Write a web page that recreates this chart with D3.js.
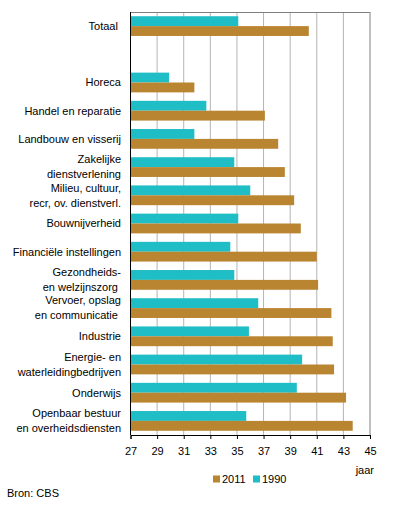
<!DOCTYPE html>
<html>
<head>
<meta charset="utf-8">
<script src="https://cdn.jsdelivr.net/npm/d3@7"></script>
<style>
  body { margin: 0; background: #fff; }
  svg { font-family: "Liberation Sans", Arial, sans-serif; font-size: 11px; }
</style>
</head>
<body>
<div id="chart"></div>
<script>
// categories (empty one is the gap under Totaal), label lines per category
var categories = [
  ["Totaal\u00a0"],
  [],
  ["Horeca"],
  ["Handel en reparatie"],
  ["Landbouw en visserij"],
  ["Zakelijke", "dienstverlening"],
  ["Milieu, cultuur,", "recr, ov. dienstverl."],
  ["Bouwnijverheid"],
  ["Financiële instellingen"],
  ["Gezondheids-", "en welzijnszorg\u00a0"],
  ["Vervoer, opslag", "en communicatie\u00a0"],
  ["Industrie"],
  ["Energie- en", "waterleidingbedrijven"],
  ["Onderwijs"],
  ["Openbaar bestuur", "en overheidsdiensten"]
];
var values1990 = [35.1, null, 29.9, 32.7, 31.8, 34.8, 36.0, 35.1, 34.5, 34.8, 36.6, 35.9, 39.9, 39.5, 35.7];
var values2011 = [40.4, null, 31.8, 37.1, 38.1, 38.6, 39.3, 39.8, 41.0, 41.1, 42.1, 42.2, 42.3, 43.2, 43.7];
var ticks = [27, 29, 31, 33, 35, 37, 39, 41, 43, 45];
var series = ["1990", "2011"];
var colors = { "1990": "#1fbdc5", "2011": "#ba8531" };

var width = 396, height = 506;
var plotLeft = 130.5, plotRight = 370, plotTop = 12, plotBottom = 435;

var svg = d3.select('#chart').append('svg')
  .attr('width', width)
  .attr('height', height);

var x = d3.scaleLinear().domain([27, 45]).range([plotLeft, plotRight]);
var y = d3.scaleBand().domain(d3.range(categories.length)).range([plotTop, plotBottom]).paddingInner(0.3).paddingOuter(0.15);
var ySub = d3.scaleBand().domain(series).range([0, y.bandwidth()]);

// gridlines
svg.append('g').selectAll('line')
  .data(ticks.slice(1))
  .enter().append('line')
  .attr('x1', function(d) { return x(d); })
  .attr('x2', function(d) { return x(d); })
  .attr('y1', plotTop)
  .attr('y2', plotBottom)
  .style('stroke', function(d) { return d === 45 ? '#808080' : '#b4b4b4'; })
  .style('stroke-width', 1);

// top border
svg.append('line')
  .attr('x1', plotLeft).attr('x2', plotRight)
  .attr('y1', plotTop + 0.5).attr('y2', plotTop + 0.5)
  .style('stroke', '#808080');

// bars
var rows = categories.map(function(c, i) {
  return { i: i, v1990: values1990[i], v2011: values2011[i] };
}).filter(function(r) { return r.v1990 !== null; });

series.forEach(function(s) {
  svg.append('g').selectAll('rect')
    .data(rows)
    .enter().append('rect')
    .attr('x', x(27))
    .attr('y', function(d) { return y(d.i) + ySub(s); })
    .attr('width', function(d) { return x(d['v' + s]) - x(27); })
    .attr('height', ySub.bandwidth())
    .style('fill', colors[s]);
});

// category labels
var labels = svg.append('g').selectAll('text')
  .data(categories.map(function(c, i) { return { lines: c, i: i }; }))
  .enter().append('text')
  .attr('text-anchor', 'end')
  .style('fill', '#000');

labels.each(function(d) {
  var cy = y(d.i) + y.bandwidth() / 2;
  var el = d3.select(this);
  var n = d.lines.length;
  d.lines.forEach(function(line, k) {
    var offset = n === 1 ? 0 : (k === 0 ? -7.5 : 7.5);
    el.append('tspan')
      .attr('x', 121)
      .attr('y', cy + offset)
      .attr('dy', '0.35em')
      .text(line);
  });
});

// axes
svg.append('g')
  .attr('transform', 'translate(0,' + plotBottom + ')')
  .call(d3.axisBottom(x).tickValues(ticks).tickSize(4).tickPadding(8))
  .call(function(g) {
    g.select('.domain').attr('stroke', '#000');
    g.selectAll('.tick line').attr('stroke', '#000');
    g.selectAll('text').style('font-size', '11px').style('font-family', null).attr('fill', '#000');
  });

svg.append('line')
  .attr('x1', plotLeft).attr('x2', plotLeft)
  .attr('y1', plotTop).attr('y2', plotBottom)
  .style('stroke', '#000');

svg.append('text')
  .attr('x', 374)
  .attr('y', 470)
  .attr('dy', '0.35em')
  .attr('text-anchor', 'end')
  .text('jaar');

// legend
var legend = svg.append('g').attr('transform', 'translate(213,479)');
["2011", "1990"].forEach(function(s, k) {
  var g = legend.append('g').attr('transform', 'translate(' + (k * 40) + ',0)');
  g.append('rect').attr('x', 0).attr('y', -3.5).attr('width', 7).attr('height', 7).style('fill', colors[s]);
  g.append('text').attr('x', 9).attr('dy', '0.35em').text(s);
});

svg.append('text')
  .attr('x', 7)
  .attr('y', 493)
  .attr('dy', '0.35em')
  .text('Bron: CBS');
</script>
</body>
</html>
